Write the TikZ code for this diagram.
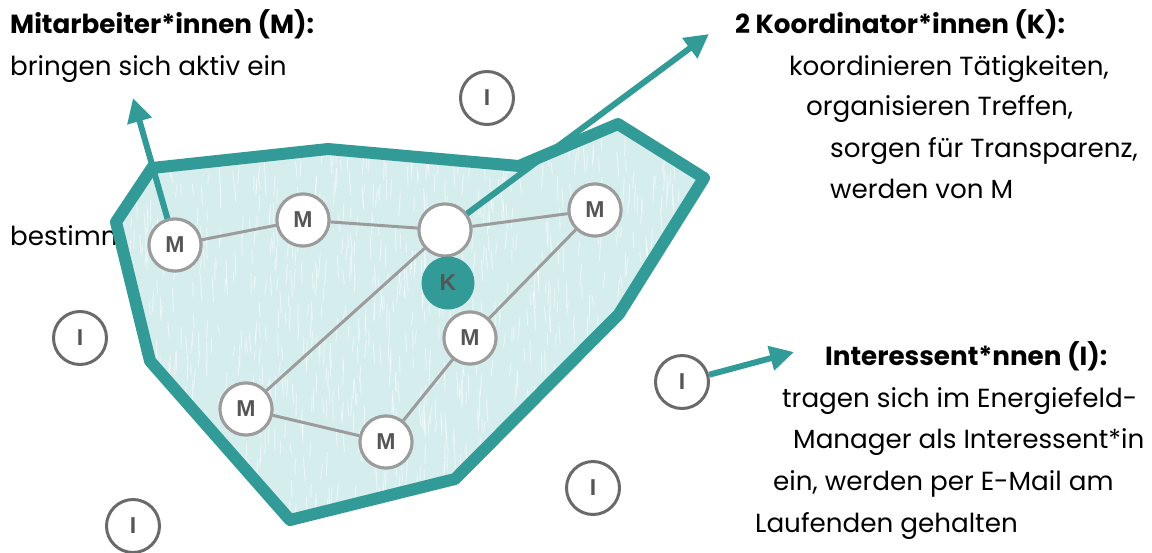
\documentclass[tikz,border=0pt]{standalone}
\usepackage{fontspec}
\setmainfont{Poppins}
\newfontfamily\labfont{Liberation Sans}
\usetikzlibrary{arrows.meta}
\definecolor{tealc}{HTML}{339B97}
\definecolor{fillc}{HTML}{D6EDED}
\definecolor{edgec}{HTML}{9C9C9C}
\definecolor{ringc}{HTML}{6A6A6A}
\definecolor{labc}{HTML}{555555}
\begin{document}
\begin{tikzpicture}[x=1pt,y=-1pt,
  txt/.style={anchor=base west,inner sep=0,font=\fontsize{26.2}{32}\selectfont},
  head/.style={anchor=base west,inner sep=0,font=\fontsize{26.2}{32}\selectfont\bfseries},
  mnode/.style={circle,draw=edgec,line width=3pt,fill=white,minimum size=52pt,inner sep=0,
    font=\labfont\bfseries\fontsize{23}{23}\selectfont,text=labc},
  knode/.style={circle,fill=tealc,minimum size=53pt,inner sep=0,
    font=\labfont\bfseries\fontsize{23}{23}\selectfont,text=labc},
  inode/.style={circle,draw=ringc,line width=3pt,fill=white,minimum size=53pt,inner sep=0,
    font=\labfont\bfseries\fontsize{23}{23}\selectfont,text=labc},
  link/.style={draw=edgec,line width=3pt},
  tarrow/.style={draw=tealc,line width=6pt,-{Triangle[length=24pt,width=24pt]}},
  region/.style={draw=tealc,line width=12pt,line join=round}
]
\useasboundingbox (0,0) rectangle (1152,552);

% text hidden partly behind the region
\node[txt] (tb) at (10,245) {bestimmen};

% region
\coordinate (p1) at (152,168);
\coordinate (p2) at (328,149);
\coordinate (p3) at (519,166);
\coordinate (p4) at (618,124);
\coordinate (p5) at (704,178);
\coordinate (p6) at (619,314);
\coordinate (p7) at (455,479);
\coordinate (p8) at (290,520);
\coordinate (p9) at (150,361);
\coordinate (p10) at (116,222);

\fill[fillc] (p1) -- (p2) -- (p3) -- (p4) -- (p5) -- (p6) -- (p7) -- (p8) -- (p9) -- (p10) -- cycle;
\begin{scope}
  \clip (p1) -- (p2) -- (p3) -- (p4) -- (p5) -- (p6) -- (p7) -- (p8) -- (p9) -- (p10) -- cycle;
  \pgfmathsetseed{7}
  \foreach \i in {1,...,1100}{
    \pgfmathsetmacro\xa{110+rnd*600}
    \pgfmathsetmacro\ya{115+rnd*410}
    \pgfmathsetmacro\dx{rnd*4-2}
    \pgfmathsetmacro\dy{10+rnd*16}
    \draw[white,opacity=0.5,line width=1pt] (\xa,\ya) -- ++(\dx,\dy);
  }
\end{scope}
\draw[region] (p1) -- (p2) -- (p3) -- (p4) -- (p5) -- (p6) -- (p7) -- (p8) -- (p9) -- (p10) -- cycle;

% nodes
\node[mnode] (m1) at (175,245) {M};
\node[mnode] (m2) at (303,220) {M};
\node[mnode] (c)  at (445,230) {};
\node[mnode] (m3) at (595,210) {M};
\node[mnode] (m4) at (470,338) {M};
\node[mnode] (m5) at (246,409) {M};
\node[mnode] (m6) at (386,442) {M};

\node[inode] (i1) at (487,98) {I};
\node[inode] (i2) at (80,338) {I};
\node[inode] (i3) at (682,382) {I};
\node[inode] (i4) at (593,488) {I};
\node[inode] (i5) at (133,526) {I};

% links
\draw[link] (m1) -- (m2);
\draw[link] (m2) -- (c);
\draw[link] (c) -- (m3);
\draw[link] (c) -- (m5);
\draw[link] (m3) -- (m4);
\draw[link] (m5) -- (m6);
\draw[link] (m6) -- (m4);

% node circles on top of links
\node[mnode] at (m1) {M};
\node[mnode] at (m2) {M};
\node[mnode] at (c) {};
\node[mnode] at (m3) {M};
\node[mnode] at (m4) {M};
\node[mnode] at (m5) {M};
\node[mnode] at (m6) {M};
\node[knode] (k) at (448,283) {K};

% arrows
\coordinate (tm) at (133,98);
\coordinate (tk) at (709,34);
\coordinate (ti) at (794,352);
\draw[tarrow] (m1) -- (tm);
\draw[tarrow] (c) -- (tk);
\draw[tarrow] (i3) -- (ti);

% texts
\node[head] (h1) at (10,33) {Mitarbeiter*innen (M):};
\node[txt] (t1) at (10,75) {bringen sich aktiv ein};

\node[head] (h2) at (735,33) {2 Koordinator*innen (K):};
\node[txt] (t2a) at (789,75) {koordinieren Tätigkeiten,};
\node[txt] (t2b) at (806,115) {organisieren Treffen,};
\node[txt] (t2c) at (830,157) {sorgen für Transparenz,};
\node[txt] (t2d) at (830,198) {werden von M};

\node[head] (h3) at (825,365) {Interessent*nnen (I):};
\node[txt] (t3a) at (782,407) {tragen sich im Energiefeld-};
\node[txt] (t3b) at (793,448) {Manager als Interessent*in};
\node[txt] (t3c) at (773,490) {ein, werden per E-Mail am};
\node[txt] (t3d) at (755,532) {Laufenden gehalten};
\end{tikzpicture}
\end{document}
